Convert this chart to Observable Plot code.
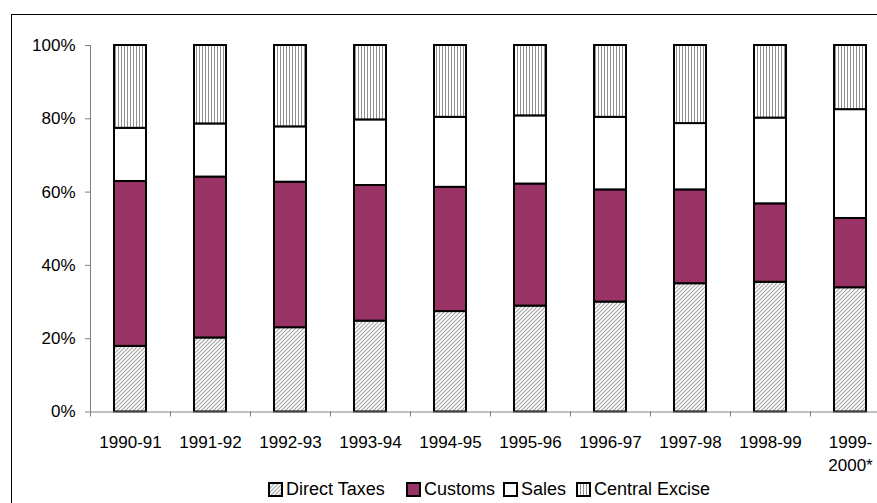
<!DOCTYPE html>
<html><head><meta charset="utf-8">
<script src="https://cdn.jsdelivr.net/npm/d3@7"></script>
<script src="https://cdn.jsdelivr.net/npm/@observablehq/plot@0.6"></script>
<style>
html,body{margin:0;padding:0;background:#fff;overflow:hidden;width:877px;height:503px;position:relative}
#frame{position:absolute;left:11px;top:14px;width:920px;height:540px;border:1.5px solid #000;box-sizing:border-box}
#chart{position:absolute;left:0;top:0;width:890px}
#chart svg{max-width:none !important}
#legend{position:absolute;left:0;top:478px;width:877px;height:24px;font:18px "Liberation Sans",Arial,sans-serif;white-space:nowrap;line-height:22px}
.item{position:absolute;top:0;display:flex;align-items:center;height:22px}
</style></head><body>
<div id="frame"></div>
<div id="chart"></div>
<div id="legend"></div>
<script>
const years = ["1990-91","1991-92","1992-93","1993-94","1994-95","1995-96","1996-97","1997-98","1998-99","1999-2000*"];
const yearLabels = ["1990-91","1991-92","1992-93","1993-94","1994-95","1995-96","1996-97","1997-98","1998-99","1999-\n2000*"];
const seriesNames = ["Direct Taxes","Customs","Sales","Central Excise"];
const directTaxes   = [17.9, 20.2, 23.0, 24.8, 27.4, 28.9, 30.0, 35.0, 35.4, 33.9];
const customs       = [45.0, 43.9, 39.7, 37.0, 33.9, 33.3, 30.6, 25.6, 21.4, 18.9];
const sales         = [14.5, 14.5, 15.1, 17.9, 19.1, 18.6, 19.8, 18.1, 23.4, 29.7];
const centralExcise = [22.6, 21.4, 22.2, 20.3, 19.6, 19.2, 19.6, 21.3, 19.8, 17.5];
const yTicks = [0, 0.2, 0.4, 0.6, 0.8, 1.0];
const fills = ["url(#pdiag)", "#993366", "#ffffff", "url(#pvert)"];

const seriesValues = [directTaxes, customs, sales, centralExcise];
const data = [];
years.forEach((yr, i) => {
  seriesNames.forEach((s, j) => {
    data.push({year: yr, series: s, value: seriesValues[j][i] / 100});
  });
});

const gray = "#808080";
const plot = Plot.plot({
  width: 890,
  height: 475,
  marginLeft: 90,
  marginRight: 0,
  marginTop: 45,
  marginBottom: 63.5,
  style: {fontFamily: "'Liberation Sans', Arial, sans-serif", fontSize: "17px", color: "#000", background: "transparent", maxWidth: "none", overflow: "visible"},
  x: {domain: years, paddingInner: 0.6, paddingOuter: 0.3, label: null},
  y: {domain: [0, 1], label: null},
  color: {domain: seriesNames, range: fills},
  marks: [
    Plot.barY(data, {x: "year", y: "value", fill: "series", order: seriesNames, stroke: "#000", strokeWidth: 2}),
    Plot.ruleY([0], {stroke: gray, strokeWidth: 1}),
    Plot.ruleX([years[0]], {dx: -40, y1: 0, y2: 1, stroke: gray, strokeWidth: 1}),
    Plot.axisY({ticks: yTicks, tickFormat: d3.format(".0%"), tickSize: 5, tickPadding: 10, stroke: gray, fill: "#000", label: null}),
    Plot.axisX({tickSize: 5, tickFormat: () => "", dx: -40, stroke: gray, label: null}),
    Plot.axisX({tickSize: 0, tickPadding: 20, lineHeight: 1.35, tickFormat: d => yearLabels[years.indexOf(d)], fill: "#000", label: null})
  ]
});

d3.select(plot).insert("defs", ":first-child").html(`
  <pattern id="pdiag" patternUnits="userSpaceOnUse" width="4" height="4">
    <rect width="4" height="4" fill="#fff"/>
    <path d="M-1,1 l2,-2 M0,4 l4,-4 M3,5 l2,-2" stroke="#a8a8a8" stroke-width="1.2"/>
  </pattern>
  <pattern id="pvert" patternUnits="userSpaceOnUse" width="3" height="3">
    <rect width="3" height="3" fill="#fff"/>
    <line x1="1.5" y1="0" x2="1.5" y2="3" stroke="#909090" stroke-width="1"/>
  </pattern>
`);
plot.style.maxWidth = "none";
document.getElementById("chart").appendChild(plot);

const legend = document.getElementById("legend");
const legendLeft = [268, 406, 503, 576];
seriesNames.forEach((s, i) => {
  const it = document.createElement("div");
  it.className = "item";
  it.style.left = legendLeft[i] + "px";
  it.innerHTML = `<svg width="15" height="15" style="margin-right:3px"><rect x="1" y="1" width="13" height="13" fill="${fills[i]}" stroke="#000" stroke-width="2"/></svg><span>${s}</span>`;
  legend.appendChild(it);
});
</script>
</body></html>
